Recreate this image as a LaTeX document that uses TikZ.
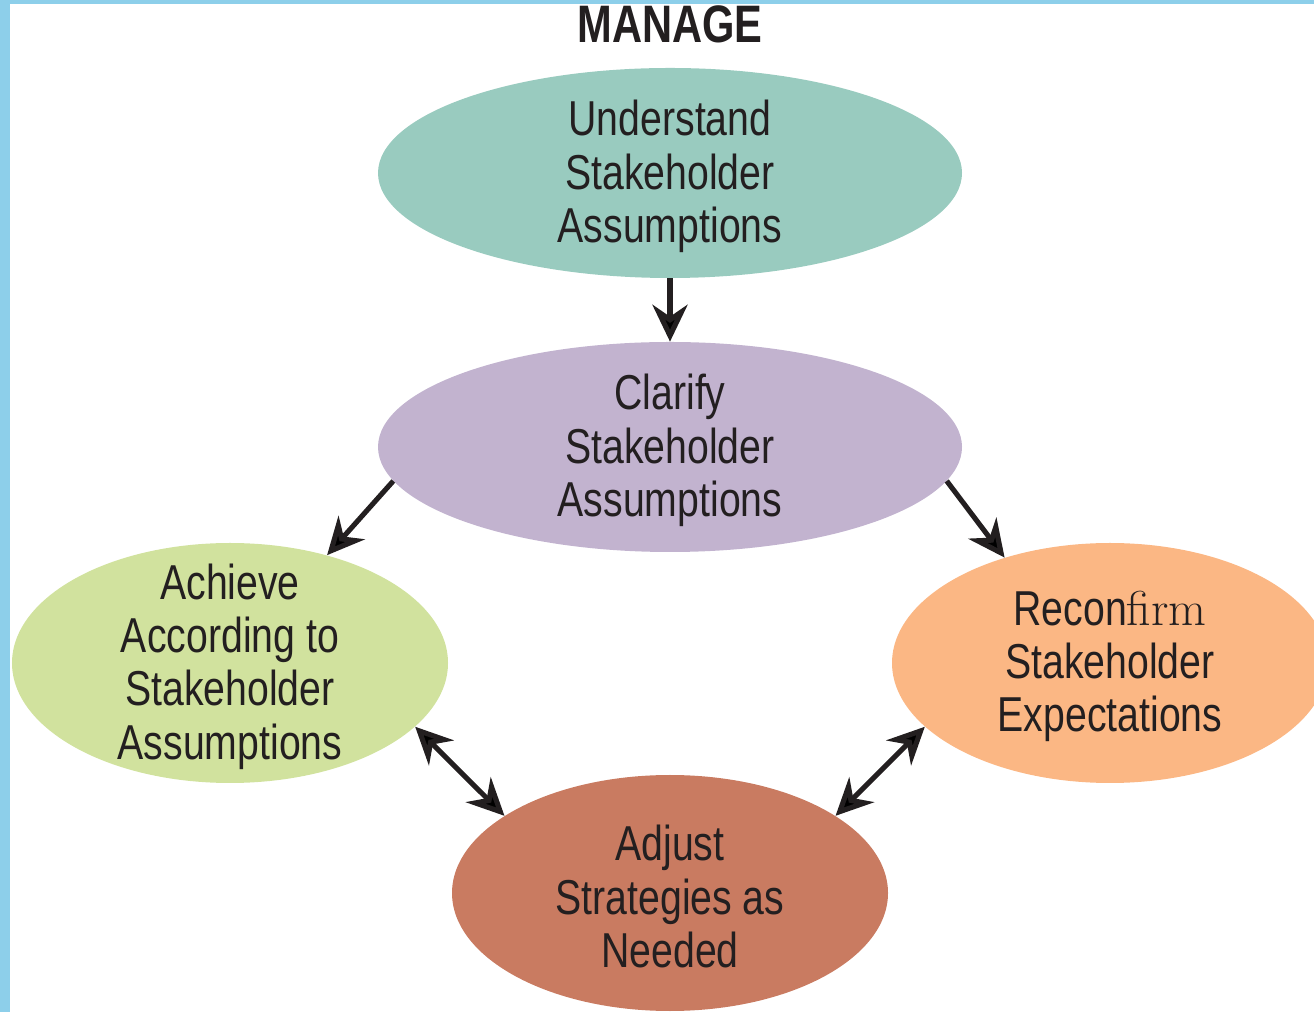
\documentclass[tikz,border=0pt]{standalone}
\usepackage{fontspec}
\setsansfont[FakeStretch=0.8]{Liberation Sans}
\newfontfamily\titlefont[FakeStretch=0.79]{Liberation Sans}
\usetikzlibrary{arrows.meta,positioning,shapes.geometric}

\definecolor{edgeblue}{HTML}{8DCFEA}
\definecolor{textgray}{HTML}{231F20}
\definecolor{understandfill}{HTML}{99CBBF}
\definecolor{clarifyfill}{HTML}{C2B3CF}
\definecolor{achievefill}{HTML}{D1E29E}
\definecolor{reconfirmfill}{HTML}{FBB784}
\definecolor{adjustfill}{HTML}{C97B61}

\begin{document}
\begin{tikzpicture}[>={Stealth[length=21pt,width=20pt]},on grid,node distance=5.48cm,
    main node/.style={ellipse,inner sep=0pt},
    wide node/.style={main node,minimum width=11.68cm,minimum height=4.2cm},
    side node/.style={main node,minimum width=8.72cm,minimum height=4.8cm},
    step text/.style={align=center,inner sep=0pt,yshift=-0.07cm,text=textgray,font=\sffamily\fontsize{27.9}{30.3}\selectfont},
    link/.style={draw=textgray,line width=2.9pt}]

    \useasboundingbox (0,0) rectangle (26.28,20.24);
    \fill[edgeblue] (0,0) rectangle (0.2,20.24);
    \fill[edgeblue] (0,20.16) rectangle (26.28,20.24);

    \node[wide node, fill=understandfill] (understand) at (13.4,16.78) {};
    \node[wide node, fill=clarifyfill] (clarify) [below=of understand] {};
    \node[side node, fill=achievefill] (achieve) [below left=4.32cm and 8.8cm of clarify] {};
    \node[side node, fill=reconfirmfill] (reconfirm) [below right=4.32cm and 8.8cm of clarify] {};
    \node[main node, fill=adjustfill, minimum width=8.72cm, minimum height=4.72cm] (adjust) [below=8.92cm of clarify] {};

    \node[text=textgray, inner sep=0pt, font=\titlefont\bfseries\fontsize{30}{30}\selectfont] (title) [above=2.98cm of understand] {MANAGE};

    \node[step text] (understand text) at (understand) {Understand\\Stakeholder\\Assumptions};
    \node[step text] (clarify text) at (clarify) {Clarify\\Stakeholder\\Assumptions};
    \node[step text] (achieve text) at (achieve) {Achieve\\According to\\Stakeholder\\Assumptions};
    \node[step text] (reconfirm text) at (reconfirm) {Recon{\rmfamily firm}\\Stakeholder\\Expectations};
    \node[step text] (adjust text) at (adjust) {Adjust\\Strategies as\\Needed};

    \path[link]
        (understand) edge[->] (clarify)
        (clarify.187) edge[->] (achieve.48)
        (clarify.353) edge[->] (reconfirm.135)
        (achieve.341) edge[<->] (adjust.155)
        (reconfirm.199) edge[<->] (adjust.25)
        ;
\end{tikzpicture}
\end{document}
